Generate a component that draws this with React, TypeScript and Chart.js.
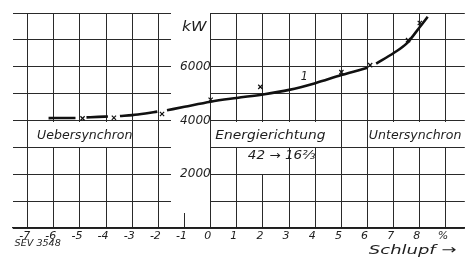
import React, { useEffect, useRef } from 'react';
import { Chart, registerables } from 'chart.js';

Chart.register(...registerables);

// ---- data ----
const xTickValues = [-7, -6, -5, -4, -3, -2, -1, 0, 1, 2, 3, 4, 5, 6, 7, 8, 9];
const xTickLabels = ['-7', '-6', '-5', '-4', '-3', '-2', '-1', '0', '1', '2', '3', '4', '5', '6', '7', '8', '%'];
const yTickLabels: Record<number, string> = { 2000: '2000', 4000: '4000', 6000: '6000' };

// curve 1 (drawn with small breaks around the measured points, as in the original)
const curveSlip = [-6.2, -5.7, -5.17, -4.95, -4.75, -4.3, -3.93, -3.7, -3.47, -3.0, -2.5, -2.04, -1.86,
  -1.67, -1.0, 0, 1, 2, 3, 4, 5, 6, 6.15, 6.33, 7, 7.5, 8, 8.3];
const curvePower = [4090, 4092, 4095, null, 4115, 4135, 4150, null, 4170, 4200, 4260, 4330, null,
  4380, 4510, 4700, 4840, 4970, 5140, 5390, 5690, 5960, null, 6120, 6510, 6870, 7480, 7860];

// measured points (x)
const measSlip = [-4.9, -3.7, -1.86, 0, 1.9, 5, 6.1, 7.55, 8];
const measPower = [4080, 4100, 4240, 4770, 5250, 5800, 6060, 6990, 7630];

// annotations: text, left slip, right slip, power (center line), font size
const bandLabels = [
  { text: 'Uebersynchron', x0: -6.64, x1: -2.99, y: 3420, size: 13, m0: -6.75, m1: -3.05 },
  { text: 'Energierichtung', x0: 0.18, x1: 4.39, y: 3420, size: 13, m0: 0.06, m1: 4.6 },
  { text: 'Untersynchron', x0: 6.05, x1: 9.59, y: 3420, size: 13, m0: 6.06, m1: 9.8 },
  { text: '42 → 16⅔', x0: 1.42, x1: 4.0, y: 2700, size: 12, m0: 1.35, m1: 2.85 },
];

const FONT = '"DejaVu Sans", sans-serif';
const INK = '#1e1e1e';

function fitText(ctx: CanvasRenderingContext2D, text: string, left: number, cy: number, width: number, size: number) {
  ctx.save();
  ctx.font = `italic ${size}px ${FONT}`;
  const w = ctx.measureText(text).width;
  ctx.translate(left, cy);
  ctx.scale(width / w, 1);
  ctx.textBaseline = 'middle';
  ctx.textAlign = 'left';
  ctx.fillStyle = INK;
  ctx.fillText(text, 0, 0);
  ctx.restore();
}

const decor = {
  id: 'decor',
  beforeDatasetsDraw(chart: any) {
    const { ctx, chartArea } = chart;
    const x = chart.scales.x;
    const y = chart.scales.y;
    ctx.save();
    ctx.fillStyle = '#ffffff';
    // gap for the kW scale
    const gx0 = Math.round(x.getPixelForValue(-1.5));
    const gx1 = Math.round(x.getPixelForValue(0) - 0.5);
    const gy1 = Math.round(y.getPixelForValue(560));
    ctx.fillRect(gx0, chartArea.top - 2, gx1 - gx0, gy1 - chartArea.top + 2);
    // text bands
    const top4 = Math.round(y.getPixelForValue(4000)) + 1;
    const bot3 = Math.round(y.getPixelForValue(3000));
    const bot2 = Math.round(y.getPixelForValue(2000));
    bandLabels.forEach((b, i) => {
      const a = Math.round(x.getPixelForValue(b.m0));
      const c = Math.round(x.getPixelForValue(b.m1));
      if (i < 3) ctx.fillRect(a, top4, c - a, bot3 - top4);
      else ctx.fillRect(a, bot3 + 1, c - a, bot2 - bot3 - 1);
    });
    ctx.restore();
    bandLabels.forEach((b) => {
      const l = x.getPixelForValue(b.x0);
      const r = x.getPixelForValue(b.x1);
      fitText(ctx, b.text, l, y.getPixelForValue(b.y), r - l, b.size);
    });
    // unit
    const kl = x.getPixelForValue(-1.1);
    const kr = x.getPixelForValue(-0.16);
    fitText(ctx, 'kW', kl, y.getPixelForValue(7480), kr - kl, 14);
  },
  afterDraw(chart: any) {
    const { ctx } = chart;
    const x = chart.scales.x;
    const y = chart.scales.y;
    const l1 = x.getPixelForValue(3.45);
    const r1 = x.getPixelForValue(3.72);
    ctx.save();
    fitText(ctx, '1', l1, y.getPixelForValue(5640), r1 - l1, 13);
    const sl = x.getPixelForValue(-7.5);
    const sr = x.getPixelForValue(-5.73);
    fitText(ctx, 'SEV 3548', sl, y.getPixelForValue(-590), sr - sl, 9);
    const ql = x.getPixelForValue(6.05);
    const qr = x.getPixelForValue(9.4);
    fitText(ctx, 'Schlupf →', ql, y.getPixelForValue(-850), qr - ql, 13);
    ctx.restore();
  },
};

export default function App() {
  const ref = useRef<HTMLCanvasElement | null>(null);
  useEffect(() => {
    if (!ref.current) return;
    const chart = new Chart(ref.current, {
      type: 'line',
      data: {
        datasets: [
          {
            label: 'curve',
            data: curveSlip.map((s, i) => ({ x: s, y: curvePower[i] as any })),
            borderColor: '#111',
            borderWidth: 2.6,
            pointRadius: 0,
            cubicInterpolationMode: 'monotone',
            spanGaps: false,
            fill: false,
          },
          {
            label: 'meas',
            data: measSlip.map((s, i) => ({ x: s, y: measPower[i] })),
            showLine: false,
            pointStyle: 'crossRot',
            pointRadius: 3,
            pointBorderWidth: 1.2,
            borderColor: '#111',
            backgroundColor: '#111',
          },
        ],
      },
      options: {
        animation: false,
        responsive: true,
        maintainAspectRatio: false,
        layout: { padding: { left: 13, right: 0, top: 13, bottom: 0 } },
        plugins: { legend: { display: false }, tooltip: { enabled: false } },
        scales: {
          x: {
            type: 'linear',
            min: -7.56,
            max: 9.72,
            afterBuildTicks: (s: any) => {
              s.ticks = xTickValues.map((v) => ({ value: v }));
            },
            afterFit: (s: any) => {
              s.height = 32;
            },
            grid: { color: '#2a2a2a', lineWidth: 1, drawTicks: false },
            border: { display: true, color: '#1e1e1e', width: 1.2 },
            ticks: {
              padding: 2,
              labelOffset: -3,
              color: INK,
              font: { family: FONT, size: 11, style: 'italic' },
              callback: (_v: any, i: number) => xTickLabels[i],
              maxRotation: 0,
              autoSkip: false,
            },
          },
          y: {
            type: 'linear',
            min: 0,
            max: 8000,
            position: { x: 0 } as any,
            grid: { color: '#2a2a2a', lineWidth: 1, drawTicks: false },
            border: { display: false },
            ticks: {
              stepSize: 1000,
              z: 1,
              color: INK,
              font: { family: FONT, size: 12, style: 'italic' },
              callback: (v: any) => yTickLabels[v as number] ?? '',
            },
          },
        },
      },
      plugins: [decor],
    });
    return () => chart.destroy();
  }, []);
  return (
    <div style={{ position: 'fixed', left: 0, top: 0, width: 470, height: 260, background: '#fff' }}>
      <canvas ref={ref} />
    </div>
  );
}
